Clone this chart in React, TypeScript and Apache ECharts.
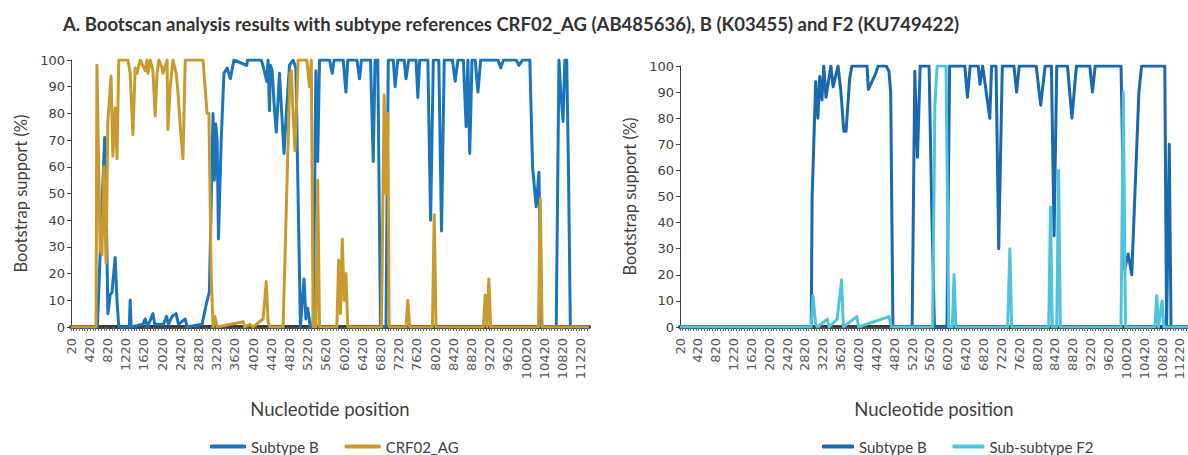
import React, { useEffect, useRef } from "react";
import * as echarts from "echarts";

// ---------- data (nucleotide position, bootstrap %) ----------
const xTickLabels = [20, 420, 820, 1220, 1620, 2020, 2420, 2820, 3220, 3620, 4020, 4420, 4820, 5220, 5620, 6020, 6420, 6820, 7220, 7620, 8020, 8420, 8820, 9220, 9620, 10020, 10420, 10820, 11220];

const leftSubtypeB: [number, number][] = [
  [20, 0], [570, 0], [600, 0], [660, 27], [700, 45], [760, 71], [790, 50], [830, 5], [880, 12], [920, 13], [990, 26], [1030, 10], [1070, 0],
  [1300, 0], [1320, 10], [1340, 0], [1600, 1], [1650, 3], [1700, 0], [1820, 5], [1860, 1], [2050, 1], [2120, 4], [2160, 1], [2240, 4], [2330, 5], [2380, 1], [2530, 3], [2570, 0],
  [2900, 1], [3010, 10], [3060, 13], [3140, 80], [3170, 55], [3200, 76], [3230, 70], [3260, 33], [3320, 70], [3380, 95], [3450, 97], [3520, 93], [3600, 100],
  [3880, 98], [3900, 100], [4200, 100], [4250, 97], [4320, 92], [4350, 100], [4380, 81], [4400, 98], [4440, 96], [4480, 84], [4530, 73], [4600, 95], [4650, 80], [4700, 65], [4750, 80], [4820, 98], [4900, 100], [4960, 97], [5060, 0],
  [5140, 18], [5180, 3], [5220, 7], [5280, 0], [5340, 0], [5400, 96], [5440, 62], [5480, 100], [5700, 100], [5760, 95], [5800, 100], [6000, 100], [6060, 88], [6100, 100], [6300, 100], [6360, 93], [6400, 100], [6600, 100], [6660, 62], [6700, 100], [6760, 100],
  [6820, 0], [6940, 0], [6990, 100], [7100, 100], [7140, 90], [7200, 100], [7340, 100], [7380, 93], [7440, 100], [7600, 100], [7640, 86], [7680, 100], [7860, 100], [7920, 40], [7980, 100], [8100, 100], [8160, 36], [8220, 100], [8400, 100], [8460, 92], [8520, 100], [8640, 100], [8700, 75], [8740, 100], [8780, 65], [8830, 100], [8900, 100], [8960, 88], [9020, 100],
  [9400, 100], [9460, 97], [9520, 100], [9800, 100], [9860, 98], [9940, 100], [10100, 100], [10160, 60], [10240, 45], [10300, 58], [10360, 0], [10680, 0], [10740, 100], [10780, 88], [10830, 77], [10870, 100], [10910, 100], [10950, 58], [10990, 0], [11400, 0]
];

const leftCRF02AG: [number, number][] = [
  [20, 0], [570, 0], [590, 98], [660, 29], [700, 27], [740, 60], [790, 24], [830, 77], [900, 94], [940, 64], [990, 82], [1030, 63], [1070, 100], [1270, 100], [1320, 95], [1380, 72], [1430, 97], [1470, 95], [1540, 100], [1650, 96], [1690, 100], [1710, 95], [1760, 100], [1820, 96], [1870, 79], [1910, 95], [1950, 100], [2020, 97], [2040, 95], [2130, 100], [2150, 74], [2200, 90], [2260, 100], [2330, 95], [2370, 88], [2420, 75], [2480, 63], [2530, 100], [2920, 100], [3010, 80], [3050, 80], [3100, 20], [3140, 0], [3180, 4], [3230, 0],
  [3800, 2], [3840, 0], [3950, 1], [4020, 0], [4240, 3], [4310, 17], [4350, 2], [4390, 0], [4680, 0], [4830, 95], [4860, 96], [4900, 80], [4940, 66], [5010, 100], [5200, 100], [5260, 90], [5300, 100], [5340, 0], [5400, 0], [5440, 55], [5480, 0],
  [5860, 0], [5900, 25], [5940, 5], [5980, 33], [6020, 10], [6060, 20], [6100, 0], [6840, 0], [6900, 87], [6940, 50], [6980, 80], [7010, 0], [7380, 0], [7420, 10], [7460, 0], [7960, 0], [8000, 42], [8040, 0], [9080, 0], [9120, 12], [9160, 0], [9200, 18], [9240, 0], [10290, 0], [10330, 48], [10370, 0], [11400, 0]
];

const rightSubtypeB: [number, number][] = [
  [20, 0], [2960, 0], [2980, 50], [3060, 94], [3110, 80], [3150, 96], [3200, 87], [3240, 100], [3290, 88], [3400, 100], [3450, 92], [3560, 100], [3620, 91], [3690, 75], [3740, 75], [3820, 95], [3870, 100], [4210, 100], [4240, 91], [4400, 97], [4460, 100], [4640, 100], [4700, 98], [4740, 90], [4790, 0],
  [5220, 0], [5280, 98], [5340, 65], [5400, 100], [5600, 100], [5660, 45], [5720, 0], [6000, 0], [6060, 100], [6400, 100], [6460, 88], [6520, 100], [6700, 100], [6740, 93], [6800, 100], [6960, 80], [7000, 100], [7100, 100], [7160, 30], [7240, 100], [7500, 100],
  [7560, 90], [7620, 100], [8000, 100], [8100, 85], [8200, 100], [8340, 100], [8400, 35], [8460, 100], [8700, 100], [8800, 80], [8900, 100], [9200, 100], [9260, 90], [9320, 100], [9900, 100], [9980, 22], [10060, 28], [10140, 20], [10300, 90], [10360, 100], [10880, 100], [10920, 0], [10980, 70], [11020, 0], [11400, 0]
];

const rightF2: [number, number][] = [
  [20, 0], [2960, 0], [3000, 12], [3060, 1], [3100, 0], [3320, 3], [3360, 0], [3540, 3], [3640, 18], [3680, 0], [3980, 4], [4020, 0], [4700, 4], [4760, 0],
  [5680, 0], [5730, 85], [5780, 100], [5980, 100], [6040, 0], [6120, 0], [6160, 20], [6200, 0], [7360, 0], [7410, 30], [7450, 0], [8280, 0], [8320, 46], [8360, 0], [8460, 0], [8500, 60], [8540, 0], [9900, 0], [9950, 90], [10000, 0], [10660, 0], [10700, 12], [10740, 0], [10820, 10], [10860, 0], [11400, 0]
];

// ---------- chart ----------
const BLUE_L = "#1b75bc";
const GOLD = "#c99a2e";
const BLUE_R = "#1a68b0";
const CYAN = "#4ec3dc";
const AXIS_TXT = "#404040";

const xTicks: number[] = [];
for (let p = 20; p <= 11400; p += 60) xTicks.push(p);

function makeXAxis(gridIndex: number) {
  return {
    type: "value" as const,
    gridIndex,
    min: 20,
    max: 11400,
    offset: 2,
    name: "Nucleotide position",
    nameLocation: "middle" as const,
    nameGap: 70,
    nameTextStyle: { fontFamily: "Lato", fontSize: 18.5, color: AXIS_TXT },
    splitLine: { show: false },
    axisLine: { show: true, lineStyle: { color: "#3a3a3a", width: 4 } },
    axisTick: { show: true, customValues: xTicks, length: 4, lineStyle: { color: "#666", width: 1 } },
    axisLabel: {
      customValues: xTickLabels,
      formatter: (v: number) => String(v),
      rotate: 90,
      fontFamily: "DejaVu Sans",
      fontSize: 13,
      color: "#595959",
      margin: 9,
    },
  };
}

function makeYAxis(gridIndex: number) {
  return {
    type: "value" as const,
    gridIndex,
    min: 0,
    max: 100,
    interval: 10,
    name: "Bootstrap support (%)",
    nameLocation: "middle" as const,
    nameGap: 42,
    nameTextStyle: { fontFamily: "Lato", fontSize: 16.5, color: AXIS_TXT },
    splitLine: { show: false },
    axisLine: { show: true, lineStyle: { color: "#404040", width: 1 } },
    axisTick: { show: true, length: 4, lineStyle: { color: "#404040" } },
    axisLabel: { fontFamily: "DejaVu Sans", fontSize: 13, color: AXIS_TXT, margin: 6 },
  };
}

function line(name: string, data: [number, number][], color: string, idx: number, z: number) {
  return {
    type: "line" as const,
    name,
    data,
    xAxisIndex: idx,
    yAxisIndex: idx,
    showSymbol: false,
    symbol: "none",
    z,
    lineStyle: { color, width: 3, join: "round" as const },
    itemStyle: { color },
  };
}

export default function App() {
  const ref = useRef<HTMLDivElement>(null);
  useEffect(() => {
    if (!ref.current) return;
    const chart = echarts.init(ref.current, undefined, { renderer: "svg" });
    chart.setOption({
      animation: false,
      backgroundColor: "#ffffff",
      title: {
        text: "A. Bootscan analysis results with subtype references CRF02_AG (AB485636), B (K03455) and F2 (KU749422)",
        left: 58,
        top: 9,
        textStyle: { fontFamily: "Lato", fontWeight: "bold", fontSize: 18.5, color: "#333333" },
      },
      grid: [
        { left: 71, top: 60, width: 518, height: 267, containLabel: false },
        { left: 680, top: 66, width: 508, height: 261, containLabel: false },
      ],
      xAxis: [makeXAxis(0), makeXAxis(1)],
      yAxis: [makeYAxis(0), makeYAxis(1)],
      legend: [
        {
          data: ["Subtype B", "CRF02_AG"],
          left: 205,
          top: 434,
          icon: "roundRect",
          itemWidth: 36,
          itemHeight: 4,
          itemGap: 26,
          textStyle: { fontFamily: "Lato", fontSize: 15, color: AXIS_TXT },
        },
        {
          data: ["Subtype B ", "Sub-subtype F2"],
          left: 817,
          top: 434,
          icon: "roundRect",
          itemWidth: 32,
          itemHeight: 4,
          itemGap: 22,
          textStyle: { fontFamily: "Lato", fontSize: 15, color: AXIS_TXT },
        },
      ],
      series: [
        line("Subtype B", leftSubtypeB, BLUE_L, 0, 2),
        line("CRF02_AG", leftCRF02AG, GOLD, 0, 3),
        line("Subtype B ", rightSubtypeB, BLUE_R, 1, 2),
        line("Sub-subtype F2", rightF2, CYAN, 1, 3),
      ],
    });
    return () => chart.dispose();
  }, []);
  return <div ref={ref} style={{ position: "absolute", left: 0, top: 0, width: 1188, height: 455, overflow: "hidden" }} />;
}
